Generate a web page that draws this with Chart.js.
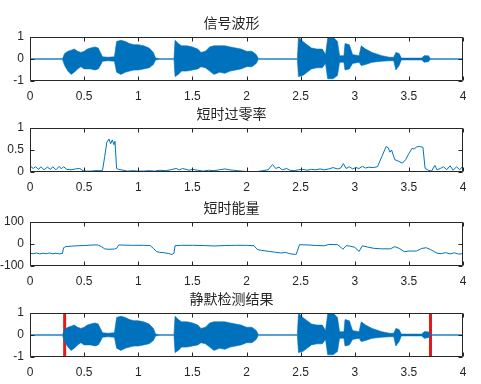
<!DOCTYPE html>
<html>
<head>
<meta charset="utf-8">
<script src="https://cdn.jsdelivr.net/npm/chart.js@4.4.1/dist/chart.umd.min.js"></script>
<style>
  html, body { margin: 0; padding: 0; background: #fff; }
  #fig { position: relative; width: 481px; height: 384px; overflow: hidden; background: #fff; }
  #fig canvas { position: absolute; left: 0; }
</style>
</head>
<body>
<div id="fig">
  <canvas id="wave" width="481" height="96" style="top:7px"></canvas>
  <canvas id="zcr" width="481" height="96" style="top:98px"></canvas>
  <canvas id="energy" width="481" height="96" style="top:192px"></canvas>
  <canvas id="silence" width="481" height="96" style="top:283px"></canvas>
</div>
<script>
const titles = ['信号波形', '短时过零率', '短时能量', '静默检测结果'];
const timeTicks = [0, 0.5, 1, 1.5, 2, 2.5, 3, 3.5, 4];
const waveTicks = [-1, 0, 1];
const zcrTicks = [0, 0.5, 1];
const energyTicks = [-100, 0, 100];

// waveform envelope (time in s)
const waveTime = [0, 0.30, 0.32, 0.35, 0.38, 0.41, 0.44, 0.47, 0.50, 0.53, 0.56, 0.60, 0.63, 0.65, 0.67, 0.72, 0.78,
  0.80, 0.84, 0.88, 0.92, 0.96, 1.00, 1.05, 1.10, 1.14, 1.16, 1.20, 1.33,
  1.34, 1.37, 1.40, 1.45, 1.50, 1.55, 1.58, 1.62, 1.66, 1.70, 1.75, 1.80, 1.85, 1.90, 1.95, 2.00, 2.05, 2.09, 2.11, 2.47,
  2.48, 2.52, 2.56, 2.60, 2.65, 2.70, 2.73, 2.75, 2.80, 2.84, 2.86, 2.90, 2.91, 2.95, 2.98, 3.04,
  3.06, 3.10, 3.16, 3.25, 3.32, 3.36, 3.38, 3.41, 3.43, 3.62, 3.64, 3.68, 3.70, 4.00];
const waveUpper = [0.015, 0.015, 0.25, 0.35, 0.4, 0.45, 0.35, 0.3, 0.35, 0.45, 0.5, 0.55, 0.5, 0.3, 0.1, 0.08, 0.1,
  0.8, 0.85, 0.8, 0.7, 0.65, 0.65, 0.6, 0.5, 0.3, 0.04, 0.015, 0.015,
  0.85, 0.7, 0.6, 0.6, 0.55, 0.45, 0.3, 0.35, 0.55, 0.6, 0.6, 0.6, 0.55, 0.5, 0.45, 0.35, 0.35, 0.2, 0.015, 0.015,
  1.0, 0.8, 0.65, 0.5, 0.45, 0.45, 0.2, 0.95, 1.0, 0.8, 0.15, 0.15, 0.7, 0.65, 0.2, 0.15,
  0.6, 0.45, 0.3, 0.15, 0.08, 0.08, 0.3, 0.25, 0.04, 0.04, 0.15, 0.15, 0.015, 0.015];
const waveLower = [-0.015, -0.015, -0.3, -0.55, -0.7, -0.6, -0.45, -0.35, -0.45, -0.45, -0.45, -0.5, -0.45, -0.3, -0.1, -0.08, -0.1,
  -0.6, -0.7, -0.6, -0.55, -0.5, -0.5, -0.45, -0.4, -0.25, -0.04, -0.015, -0.015,
  -0.8, -0.7, -0.55, -0.55, -0.5, -0.45, -0.35, -0.4, -0.55, -0.7, -0.6, -0.65, -0.55, -0.5, -0.45, -0.35, -0.35, -0.2, -0.015, -0.015,
  -0.8, -0.75, -0.6, -0.45, -0.4, -0.4, -0.2, -0.9, -0.9, -0.75, -0.15, -0.15, -0.5, -0.45, -0.2, -0.15,
  -0.3, -0.25, -0.15, -0.1, -0.08, -0.08, -0.5, -0.3, -0.04, -0.04, -0.15, -0.12, -0.015, -0.015];

const zcrTime = [0, 0.03, 0.05, 0.08, 0.10, 0.13, 0.16, 0.19, 0.21, 0.24, 0.27, 0.29, 0.31, 0.34, 0.38, 0.42, 0.46, 0.49,
  0.52, 0.56, 0.60, 0.64, 0.67, 0.69, 0.71, 0.73, 0.745, 0.76, 0.775, 0.785, 0.80, 0.82, 0.86, 0.90, 0.95,
  1.00, 1.05, 1.10, 1.15, 1.20, 1.25, 1.30, 1.35, 1.38, 1.41, 1.44, 1.47, 1.50, 1.55, 1.60, 1.65, 1.70, 1.75,
  1.80, 1.84, 1.88, 1.92, 1.96, 2.00, 2.05, 2.10, 2.15, 2.20, 2.24, 2.27, 2.30, 2.33, 2.37, 2.40, 2.44, 2.48,
  2.52, 2.56, 2.60, 2.64, 2.68, 2.72, 2.76, 2.80, 2.84, 2.87, 2.895, 2.92, 2.95, 2.98, 3.01, 3.04, 3.07, 3.10,
  3.13, 3.17, 3.21, 3.25, 3.29, 3.31, 3.325, 3.34, 3.37, 3.40, 3.44, 3.47, 3.50, 3.53, 3.55, 3.57, 3.60, 3.63,
  3.65, 3.68, 3.71, 3.74, 3.76, 3.79, 3.82, 3.85, 3.88, 3.91, 3.94, 3.97, 4.00];
const zcrValue = [0.14, 0.08, 0.12, 0.06, 0.12, 0.05, 0.11, 0.06, 0.12, 0.05, 0.13, 0.07, 0.12, 0.06, 0.05, 0.07, 0.08, 0.03,
  0.02, 0.02, 0.03, 0.03, 0.04, 0.35, 0.68, 0.75, 0.64, 0.73, 0.62, 0.70, 0.08, 0.06, 0.04, 0.02, 0.03,
  0.02, 0.02, 0.03, 0.02, 0.04, 0.03, 0.05, 0.08, 0.05, 0.08, 0.06, 0.04, 0.06, 0.04, 0.02, 0.04, 0.03, 0.05,
  0.07, 0.05, 0.04, 0.03, 0.02, 0.01, 0.01, 0.01, 0.03, 0.05, 0.17, 0.08, 0.11, 0.05, 0.08, 0.04, 0.03, 0.05,
  0.06, 0.04, 0.06, 0.05, 0.07, 0.05, 0.07, 0.10, 0.07, 0.09, 0.19, 0.08, 0.12, 0.07, 0.10, 0.08, 0.13, 0.09,
  0.11, 0.10, 0.12, 0.35, 0.58, 0.55, 0.45, 0.50, 0.28, 0.25, 0.20, 0.28, 0.42, 0.54, 0.52, 0.57, 0.58, 0.56,
  0.08, 0.04, 0.02, 0.15, 0.05, 0.08, 0.12, 0.05, 0.14, 0.04, 0.12, 0.05, 0.14];

const energyTime = [0, 0.03, 0.06, 0.09, 0.12, 0.15, 0.18, 0.21, 0.24, 0.27, 0.30, 0.31, 0.33, 0.40, 0.50, 0.60,
  0.63, 0.66, 0.69, 0.72, 0.78, 0.80, 0.82, 0.85, 0.95, 1.05, 1.11, 1.14, 1.17, 1.20, 1.24, 1.28, 1.31, 1.33,
  1.34, 1.40, 1.50, 1.60, 1.70, 1.80, 1.90, 2.00, 2.07, 2.10, 2.14, 2.20, 2.26, 2.32, 2.36, 2.40, 2.44, 2.46,
  2.49, 2.55, 2.65, 2.72, 2.76, 2.84, 2.87, 2.89, 2.92, 2.95, 3.00, 3.04, 3.07, 3.12, 3.18, 3.25, 3.33, 3.37,
  3.41, 3.46, 3.50, 3.57, 3.62, 3.66, 3.70, 3.76, 3.80, 3.84, 3.88, 3.92, 3.96, 4.00];
const energyValue = [-42, -44, -41, -45, -42, -44, -41, -44, -42, -45, -43, -17, -12, -9, -7, -4,
  -5, -12, -22, -24, -23, -20, -4, -5, -6, -6, -7, -20, -35, -38, -40, -43, -48, -42,
  -8, -6, -6, -7, -9, -7, -6, -6, -8, -25, -29, -33, -37, -41, -38, -44, -47, -46,
  -3, -4, -7, -8, -2, -3, -14, -24, -8, -9, -15, -34, -8, -14, -20, -22, -22, -12,
  -20, -35, -32, -32, -20, -17, -25, -42, -44, -39, -45, -40, -46, -44];

const silenceBounds = [0.32, 3.7];

const blue = '#0072BD';
const axisColor = '#262626';
const xy = (xs, ys) => xs.map((t, i) => ({ x: t, y: ys[i] }));

// MATLAB-like box with inward ticks on all four sides
const boxPlugin = {
  id: 'matlabBox',
  afterDatasetsDraw(chart) {
    const { ctx, chartArea: a, scales: { x, y } } = chart;
    const L = Math.round(a.left) + 0.5, R = Math.round(a.right) - 0.5;
    const T = Math.round(a.top) + 0.5, B = Math.round(a.bottom) - 0.5;
    ctx.save();
    ctx.strokeStyle = axisColor;
    ctx.lineWidth = 1;
    ctx.beginPath();
    x.ticks.forEach(t => {
      const px = Math.round(x.getPixelForValue(t.value)) + 0.5;
      ctx.moveTo(px, B); ctx.lineTo(px, B - 4);
      ctx.moveTo(px, T); ctx.lineTo(px, T + 4);
    });
    y.ticks.forEach(t => {
      const py = Math.round(y.getPixelForValue(t.value)) + 0.5;
      ctx.moveTo(L, py); ctx.lineTo(L + 4, py);
      ctx.moveTo(R, py); ctx.lineTo(R - 4, py);
    });
    ctx.rect(L, T, R - L, B - T);
    ctx.stroke();
    ctx.restore();
  }
};

const tickFont = { family: '"Liberation Sans", Arial, sans-serif', size: 12 };

function makeChart(id, title, datasets, yTicks) {
  new Chart(document.getElementById(id), {
    type: 'line',
    data: { datasets },
    options: {
      responsive: false,
      animation: false,
      events: [],
      layout: { padding: { left: 0, right: 18, top: 0, bottom: 0 } },
      elements: { point: { radius: 0 }, line: { tension: 0 } },
      plugins: {
        legend: { display: false },
        tooltip: { enabled: false },
        title: {
          display: true,
          text: title,
          color: axisColor,
          font: { family: '"Noto Sans CJK SC", sans-serif', size: 14, weight: 'normal', lineHeight: 16 / 14 },
          padding: { top: 8, bottom: 6 }
        }
      },
      scales: {
        x: {
          type: 'linear',
          min: timeTicks[0],
          max: timeTicks[timeTicks.length - 1],
          afterBuildTicks: axis => { axis.ticks = timeTicks.map(v => ({ value: v })); },
          afterFit: axis => { axis.height = 22; },
          grid: { display: false, drawTicks: false },
          border: { display: false },
          ticks: { color: axisColor, padding: 8, maxRotation: 0, autoSkip: false, font: tickFont,
            callback: v => String(v) }
        },
        y: {
          min: yTicks[0],
          max: yTicks[yTicks.length - 1],
          afterBuildTicks: axis => { axis.ticks = yTicks.map(v => ({ value: v })); },
          afterFit: axis => { axis.width = 30; },
          grid: { display: false, drawTicks: false },
          border: { display: false },
          ticks: { color: axisColor, padding: 6, autoSkip: false, font: tickFont,
            callback: v => String(v) }
        }
      }
    },
    plugins: [boxPlugin]
  });
}

function waveDatasets() {
  return [
    { data: xy(waveTime, waveUpper), borderColor: blue, backgroundColor: blue, borderWidth: 0.6, fill: '+1' },
    { data: xy(waveTime, waveLower), borderColor: blue, backgroundColor: blue, borderWidth: 0.6, fill: false }
  ];
}

makeChart('wave', titles[0], waveDatasets(), waveTicks);

makeChart('zcr', titles[1], [
  { data: xy(zcrTime, zcrValue), borderColor: blue, borderWidth: 1, fill: false }
], zcrTicks);

makeChart('energy', titles[2], [
  { data: xy(energyTime, energyValue), borderColor: blue, borderWidth: 1, fill: false }
], energyTicks);

makeChart('silence', titles[3], waveDatasets().concat(silenceBounds.map(t => ({
  data: [{ x: t, y: waveTicks[0] }, { x: t, y: waveTicks[waveTicks.length - 1] }],
  borderColor: '#e01b1b', borderWidth: 3, fill: false
}))), waveTicks);
</script>
</body>
</html>
